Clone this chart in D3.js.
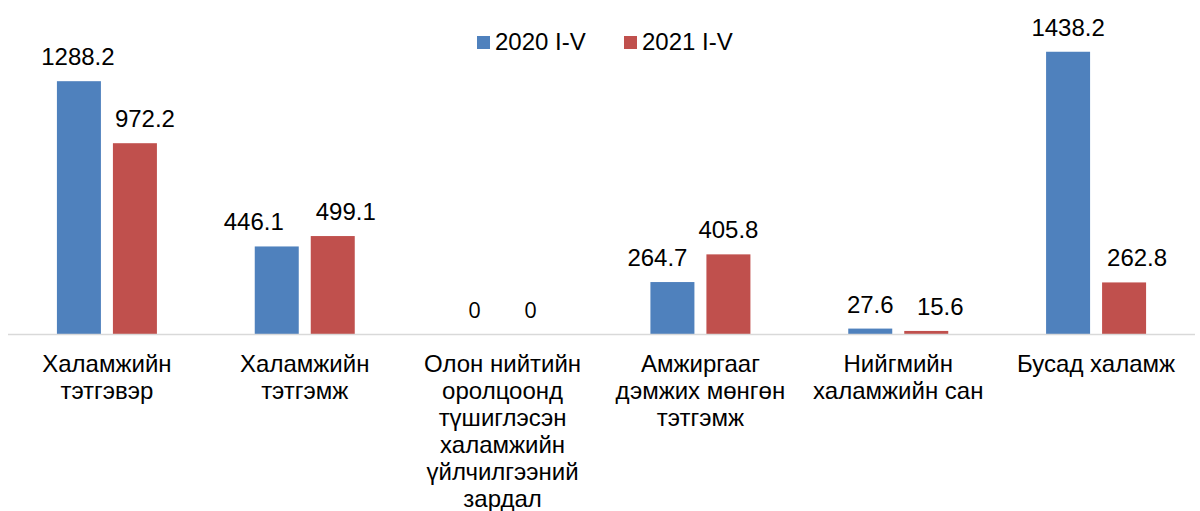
<!DOCTYPE html>
<html>
<head>
<meta charset="utf-8">
<script src="https://cdn.jsdelivr.net/npm/d3@7"></script>
<style>
  body { margin: 0; background: #fff; }
  svg { display: block; font-family: "Liberation Sans", Arial, sans-serif; }
</style>
</head>
<body>
<svg id="chart"></svg>
<script>
(function (d3) {
    // ==================================================
    // data

    const categories = [
        ["Халамжийн", "тэтгэвэр"],
        ["Халамжийн", "тэтгэмж"],
        ["Олон нийтийн", "оролцоонд", "түшиглэсэн", "халамжийн", "үйлчилгээний", "зардал"],
        ["Амжиргааг", "дэмжих мөнгөн", "тэтгэмж"],
        ["Нийгмийн", "халамжийн сан"],
        ["Бусад халамж"]
    ];
    const series = ["2020 I-V", "2021 I-V"];
    const values2020 = [1288.2, 446.1, 0, 264.7, 27.6, 1438.2];
    const values2021 = [972.2, 499.1, 0, 405.8, 15.6, 262.8];
    const colors = ["#4F81BD", "#C0504D"];

    // hand-moved data labels (horizontal nudge, px)
    const nudge2020 = [-1, -23, 0, -15, 0, 0];
    const nudge2021 = [10, 13, 0, 0, 14, 13];

    const width = 1200;
    const height = 511;

    const svg = d3.select('#chart')
          .attr('width', width)
          .attr('height', height);

    const rows = categories.map((c, i) => ({
        i: i,
        label: c,
        vals: [values2020[i], values2021[i]],
        nudge: [nudge2020[i], nudge2021[i]]
    }));

    // ==================================================
    // scales

    const x0 = d3.scaleBand()
          .domain(d3.range(categories.length))
          .range([8, 1195]);

    const x1 = d3.scaleBand()
          .domain(series)
          .range([-50, 50])
          .paddingInner(12 / 56);

    const y = d3.scaleLinear()
          .domain([0, 1600])
          .range([334, 20]);

    // ==================================================
    // bars + labels

    const groups = svg.selectAll("g.cat")
          .data(rows)
          .enter()
          .append("g")
          .attr("class", "cat")
          .attr("transform", d => `translate(${x0(d.i) + x0.bandwidth() / 2},0)`);

    const cells = groups.selectAll("g.bar")
          .data(d => d.vals.map((v, k) => ({ s: series[k], v: v, k: k, dx: d.nudge[k] })))
          .enter()
          .append("g")
          .attr("class", "bar");

    cells.append("rect")
        .attr("x", d => x1(d.s))
        .attr("y", d => y(d.v))
        .attr("width", x1.bandwidth())
        .attr("height", d => y(0) - y(d.v))
        .attr("fill", d => colors[d.k]);

    cells.append("text")
        .attr("x", d => x1(d.s) + x1.bandwidth() / 2 + d.dx)
        .attr("y", d => y(d.v) - 16)
        .attr("text-anchor", "middle")
        .attr("font-size", d => d.v === 0 ? 22 : 24)
        .attr("font-family", d => d.v === 0 ? "'Open Sans', 'Noto Sans', sans-serif" : null)
        .attr("fill", "#000")
        .text(d => d.v);

    // axis line
    svg.append("line")
        .attr("x1", x0.range()[0])
        .attr("x2", x0.range()[1])
        .attr("y1", y(0) + 0.5)
        .attr("y2", y(0) + 0.5)
        .attr("stroke", "#d9d9d9")
        .attr("stroke-width", 1.5);

    // category labels
    const cl = groups.append("text")
          .attr("text-anchor", "middle")
          .attr("font-size", 24)
          .attr("fill", "#000");

    cl.selectAll("tspan")
        .data(d => d.label)
        .enter()
        .append("tspan")
        .attr("x", 0)
        .attr("y", (d, j) => 372 + j * 27)
        .text(d => d);

    // ==================================================
    // legend

    const legendX = [477, 624];
    const lg = svg.selectAll("g.legend")
          .data(series)
          .enter()
          .append("g")
          .attr("class", "legend")
          .attr("transform", (d, k) => `translate(${legendX[k]},36)`);

    lg.append("rect")
        .attr("width", 13)
        .attr("height", 13)
        .attr("fill", (d, k) => colors[k]);

    lg.append("text")
        .attr("x", 18)
        .attr("y", 14)
        .attr("font-size", 24)
        .attr("fill", "#000")
        .text(d => d);
})(d3);
</script>
</body>
</html>
